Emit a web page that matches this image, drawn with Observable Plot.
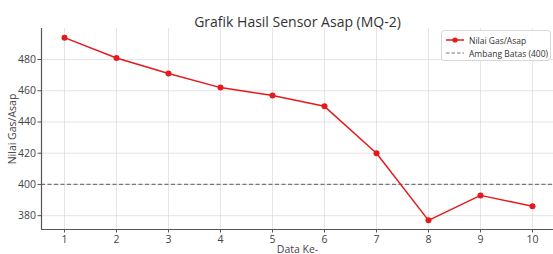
<!DOCTYPE html>
<html>
<head>
<meta charset="utf-8">
<script src="https://cdn.jsdelivr.net/npm/d3@7"></script>
<script src="https://cdn.jsdelivr.net/npm/@observablehq/plot@0.6"></script>
<style>
  html, body { margin: 0; padding: 0; background: #fff; }
  #wrap { position: relative; width: 553px; height: 254px; overflow: hidden; font-family: "Open Sans", sans-serif; }
  #legend { position: absolute; left: 441px; top: 30px; width: 110px; height: 31px; border: 1px solid #d8d8d8; border-radius: 3px; background: rgba(255,255,255,0.9); font-size: 8.5px; color: #333; box-sizing: border-box; }
  .row { position: absolute; left: 4px; height: 12px; display: flex; align-items: center; white-space: nowrap; }
  .row svg { margin-right: 5px; }
</style>
</head>
<body>
<div id="wrap"></div>
<script>
const dataKe = [1, 2, 3, 4, 5, 6, 7, 8, 9, 10];
const nilai = [494, 481, 471, 462, 457, 450, 420, 377, 393, 386];
const ambang = 400;
const yTicks = [380, 400, 420, 440, 460, 480];
const xTicks = [1, 2, 3, 4, 5, 6, 7, 8, 9, 10];
const title = "Grafik Hasil Sensor Asap (MQ-2)";
const seriesLabel = "Nilai Gas/Asap";
const thresholdLabel = "Ambang Batas (400)";

const rows = dataKe.map((d, i) => ({x: d, y: nilai[i]}));
const red = "#e41a1c";

const chart = Plot.plot({
  width: 553,
  height: 254,
  marginTop: 28,
  marginBottom: 25,
  marginLeft: 41,
  marginRight: 0,
  style: {fontFamily: "Open Sans, sans-serif", fontSize: "10px", color: "#444", background: "#fff"},
  x: {domain: [0.558, 10.404], ticks: xTicks},
  y: {domain: [371.15, 499.85], ticks: yTicks},
  marks: [
    Plot.gridX(xTicks, {stroke: "#d9d9d9", strokeOpacity: 1, strokeWidth: 0.7}),
    Plot.gridY(yTicks, {stroke: "#d9d9d9", strokeOpacity: 1, strokeWidth: 0.7}),
    Plot.ruleY([ambang], {stroke: "#777", strokeWidth: 1.2, strokeDasharray: "4,2.5"}),
    Plot.line(rows, {x: "x", y: "y", stroke: red, strokeWidth: 1.5}),
    Plot.dot(rows, {x: "x", y: "y", fill: red, r: 3}),
    Plot.axisX({ticks: xTicks, tickSize: 3.5, tickPadding: 3, fontSize: 10.5, label: "Data Ke-", labelAnchor: "center", labelOffset: 23, labelArrow: "none", stroke: "#555"}),
    Plot.axisY({ticks: yTicks, tickSize: 3.5, tickPadding: 2, fontSize: 10.5, label: "Nilai Gas/Asap", labelAnchor: "center", labelOffset: 33, labelArrow: "none", stroke: "#555"}),
    Plot.ruleX([0.558], {stroke: "#555", strokeWidth: 1.2}),
    Plot.ruleY([371.15], {stroke: "#555", strokeWidth: 1.2}),
    Plot.text([title], {frameAnchor: "top", dy: -11, fontSize: 14, fill: "#333", text: d => d})
  ]
});

const wrap = document.getElementById("wrap");
wrap.appendChild(chart);

const legend = document.createElement("div");
legend.id = "legend";
legend.innerHTML = `
  <div class="row" style="top:3px"><svg width="18" height="8"><line x1="0" y1="4" x2="18" y2="4" stroke="${red}" stroke-width="1.5"/><circle cx="9" cy="4" r="2.6" fill="${red}"/></svg><span>${seriesLabel}</span></div>
  <div class="row" style="top:16px"><svg width="18" height="8"><line x1="0" y1="4" x2="18" y2="4" stroke="#777" stroke-width="1.1" stroke-dasharray="3.5,2"/></svg><span>${thresholdLabel}</span></div>`;
wrap.appendChild(legend);
</script>
</body>
</html>
